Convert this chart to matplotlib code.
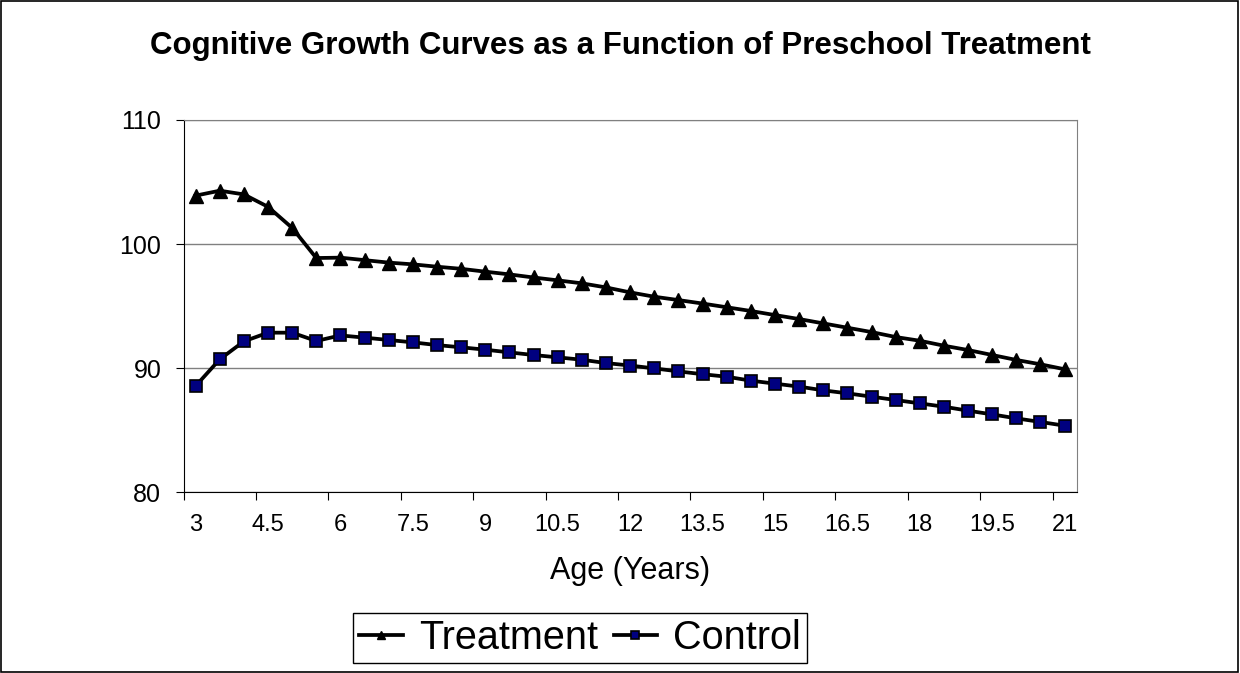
import matplotlib
matplotlib.use("Agg")
from matplotlib import pyplot as plt
from matplotlib.patches import Rectangle

plt.rcParams['font.family'] = ['Liberation Sans', 'DejaVu Sans']

# ages 3 .. 21 in half-year steps
ages = [3, 3.5, 4, 4.5, 5, 5.5, 6, 6.5, 7, 7.5, 8, 8.5, 9, 9.5, 10, 10.5, 11, 11.5, 12,
        12.5, 13, 13.5, 14, 14.5, 15, 15.5, 16, 16.5, 17, 17.5, 18, 18.5, 19, 19.5, 20, 20.5, 21]

treatment = [103.9, 104.3, 104.0, 103.0, 101.3, 98.87, 98.9, 98.7, 98.5, 98.36, 98.17, 98.0,
             97.77, 97.55, 97.3, 97.07, 96.83, 96.5, 96.1, 95.75, 95.48, 95.2, 94.9, 94.6,
             94.27, 93.95, 93.6, 93.25, 92.9, 92.5, 92.2, 91.8, 91.45, 91.05, 90.65, 90.3, 89.9]

control = [88.55, 90.7, 92.15, 92.85, 92.85, 92.18, 92.63, 92.45, 92.26, 92.07, 91.85, 91.67,
           91.48, 91.26, 91.05, 90.86, 90.67, 90.4, 90.2, 89.97, 89.73, 89.5, 89.3, 88.98,
           88.74, 88.5, 88.2, 87.96, 87.69, 87.42, 87.15, 86.88, 86.56, 86.26, 85.94, 85.65, 85.35]

y_ticks = [80, 90, 100, 110]

fig = plt.figure(figsize=(12.4, 6.73), dpi=100)
ax = fig.add_axes([0.148, 0.2689, 0.7203, 0.5528])

idx = list(range(len(ages)))
ax.plot(idx, treatment, color="black", lw=2.7, marker="^", ms=10,
        mfc="black", mec="black", label="Treatment", zorder=3)
ax.plot(idx, control, color="black", lw=2.7, marker="s", ms=8.5,
        mfc="#000080", mec="black", mew=1.2, label="Control", zorder=3)

ax.set_xlim(-0.5, len(ages) - 0.5)
ax.set_ylim(80, 110)
ax.set_yticks(y_ticks)
ax.yaxis.grid(True, color="#808080", lw=1)
ax.set_axisbelow(True)

# ticks on category boundaries, labels on every third category
ax.set_xticks([i - 0.5 for i in idx[::3]])
ax.set_xticklabels([])
ax.set_xticks(idx[::3], minor=True)
ax.set_xticklabels([f"{a:g}" for a in ages[::3]], minor=True)
ax.tick_params(axis="x", which="minor", length=0, pad=16, labelsize=17)
ax.tick_params(axis="x", which="major", length=6, direction="out", color="black")
ax.tick_params(axis="y", length=6, direction="out", pad=10, labelsize=18)

for s in ["top", "right"]:
    ax.spines[s].set_color("#808080")
for s in ["left", "bottom"]:
    ax.spines[s].set_color("black")

ax.set_xlabel("Age (Years)", fontsize=22, labelpad=14)

fig.text(0.5, 0.931, "Cognitive Growth Curves as a Function of Preschool Treatment",
         ha="center", va="center", fontsize=22.5, fontweight="bold")

leg = ax.legend(loc="center", bbox_to_anchor=(580 / 1240, 0.052), bbox_transform=fig.transFigure,
                ncol=2, fontsize=28.5, frameon=True, fancybox=False, framealpha=1,
                edgecolor="black", handlelength=1.1, handletextpad=0.4, columnspacing=0.4,
                borderpad=0.15, borderaxespad=0, markerscale=0.6)
leg.get_frame().set_linewidth(1)

fig.patches.append(Rectangle((0.001, 0.001), 0.997, 0.997, transform=fig.transFigure,
                             fill=False, edgecolor="black", lw=1.2))

fig.savefig("out.png", dpi=100)
